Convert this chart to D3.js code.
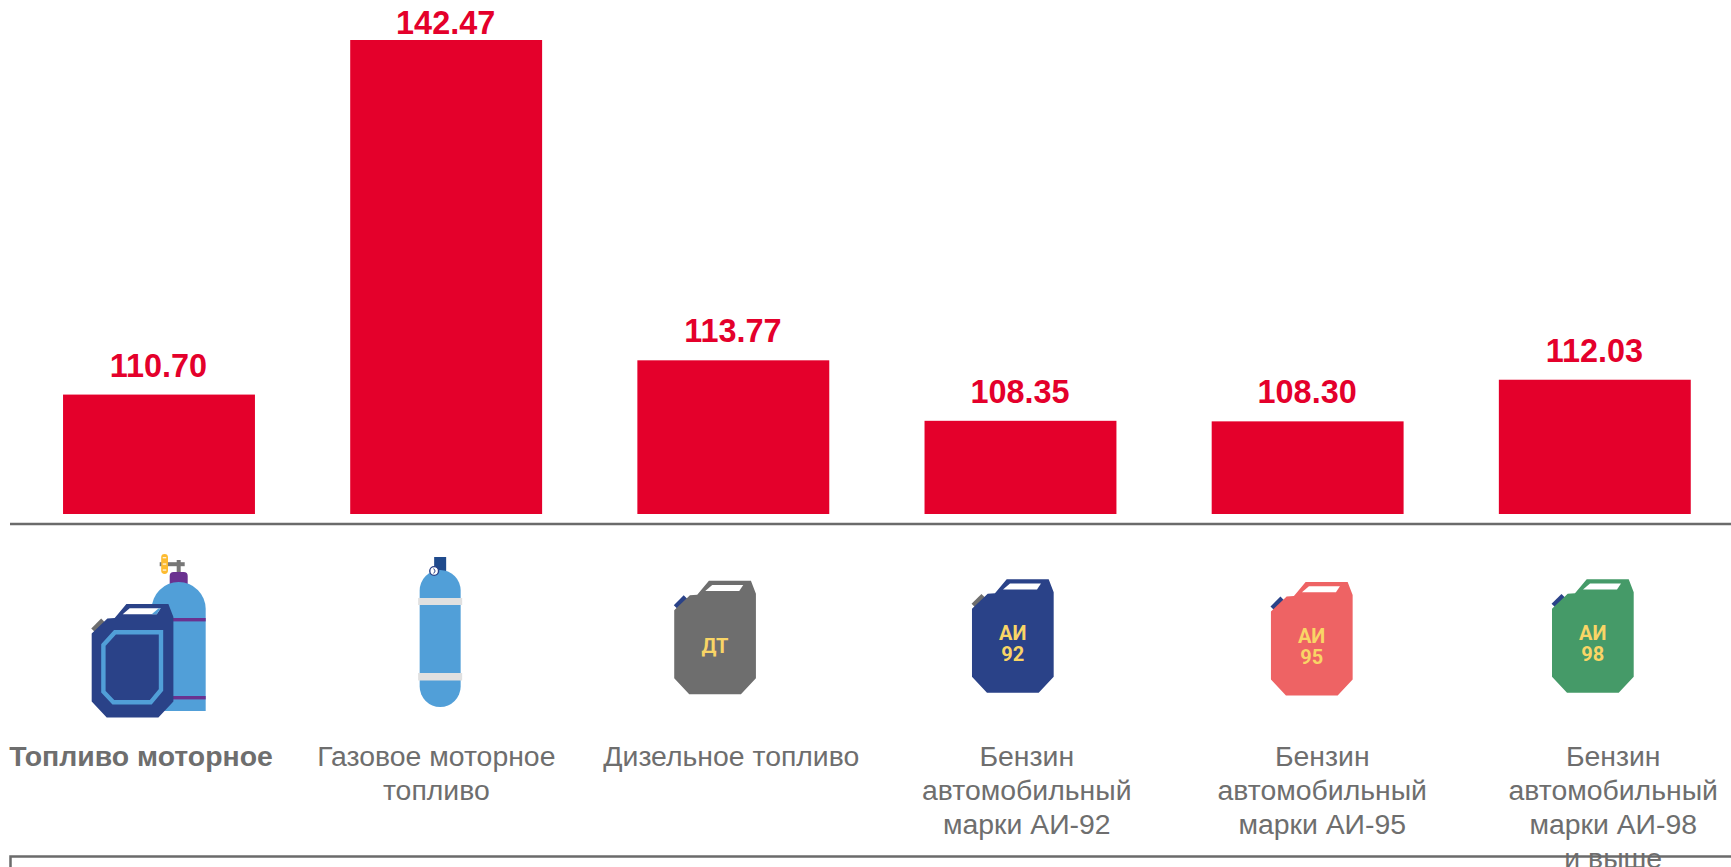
<!DOCTYPE html>
<html lang="ru">
<head>
<meta charset="utf-8">
<script src="https://cdn.jsdelivr.net/npm/d3@7"></script>
<style>
html,body{margin:0;padding:0;background:#fff;overflow:hidden}
svg{display:block}
text{font-family:"Liberation Sans",Arial,sans-serif}
</style>
</head>
<body>
<svg id="chart" width="1731" height="867"></svg>
<script>
const categories = ["Топливо моторное","Газовое моторное топливо","Дизельное топливо","Бензин автомобильный марки АИ-92","Бензин автомобильный марки АИ-95","Бензин автомобильный марки АИ-98 и выше"];
const values = [110.70,142.47,113.77,108.35,108.30,112.03];
const valueLabels = ["110.70","142.47","113.77","108.35","108.30","112.03"];
const categoryLines = [
  ["Топливо моторное"],
  ["Газовое моторное","топливо"],
  ["Дизельное топливо"],
  ["Бензин","автомобильный","марки АИ-92"],
  ["Бензин","автомобильный","марки АИ-95"],
  ["Бензин","автомобильный","марки АИ-98","и выше"]
];
const labelShift = [-18,-9.8,-2,6.3,14.6,18.4];
const valueLift = [18,6.5,18,18,18,18];
const iconKinds = ["combo","gas","can","can","can","can"];
const canColours = [null,null,"#6e6e6e","#2a4288","#ee6364","#459a68"];
const capColours = [null,null,"#2a4288","#6e6e6e","#2a4288","#2a4288"];
const canTexts = [null,null,["ДТ"],["АИ","92"],["АИ","95"],["АИ","98"]];
const canX = [0,0,-59.1,-48.5,-36.7,-42.8];
const canY = [0,0,580.7,579.3,582,579.3];

const RED="#e4002b", GREY="#6b6b6b", BLUE="#519fd8", NAVY="#2a4288", PURPLE="#6a3290", YEL="#f9d566";
const svg=d3.select("#chart");
const x=d3.scaleBand().domain(categories).range([15.4,1738.4]).paddingInner(0.3317).paddingOuter(0.1659);
const y=d3.scaleLinear().domain([100,142.47]).range([514,40]);
const cx=i=>x(categories[i])+x.bandwidth()/2;

svg.append("g").selectAll("rect").data(categories).join("rect")
  .attr("x",d=>x(d)).attr("width",x.bandwidth())
  .attr("y",(d,i)=>y(values[i])).attr("height",(d,i)=>y(100)-y(values[i]))
  .attr("fill",RED);

svg.append("g").selectAll("text").data(categories).join("text")
  .attr("x",d=>x(d)+x.bandwidth()/2-0.5).attr("y",(d,i)=>y(values[i])-valueLift[i])
  .attr("text-anchor","middle").attr("font-size",32.4).attr("font-weight",700).attr("fill",RED)
  .text((d,i)=>valueLabels[i]);

// baseline
svg.append("line").attr("x1",10).attr("x2",1731).attr("y1",524).attr("y2",524).attr("stroke",GREY).attr("stroke-width",2.5);

// category labels
const lab=svg.append("g").selectAll("text").data(categories).join("text")
  .attr("text-anchor","middle").attr("font-size",28.4).attr("fill","#6e6e6e")
  .attr("font-weight",(d,i)=>i===0?700:400);
lab.each(function(d,i){
  d3.select(this).selectAll("tspan").data(categoryLines[i]).join("tspan")
    .attr("x",cx(i)+labelShift[i]).attr("y",(l,k)=>766+k*34).text(l=>l);
});

// lower frame
svg.append("path").attr("d","M10.5 867V856.5H1731").attr("fill","none").attr("stroke",GREY).attr("stroke-width",2.5);

function drawCan(g,body,cap,win,winEnd){
  g.append("rect").attr("x",-7).attr("y",-3.5).attr("width",14).attr("height",7.5).attr("fill",cap)
    .attr("transform","translate(7,22) rotate(-45)");
  g.append("path").attr("d","M0 29.5L15.7 14.5 23 14 34.7 0H76.7L81.7 13V97.5L66.7 113.5H15L0 97.5Z").attr("fill",body);
  g.append("path").attr("d","M31 10.3L38 4.3H69L65 10.3Z").attr("fill",win);
  if(winEnd) g.append("path").attr("d","M60 10.3L67 4.3H69L65 10.3Z").attr("fill",winEnd);
}

iconKinds.forEach((kind,i)=>{
  const g=svg.append("g");
  if(kind==="can"){
    const c=g.append("g").attr("transform",`translate(${cx(i)+canX[i]},${canY[i]})`);
    drawCan(c,canColours[i],capColours[i],"#fff");
    const t=canTexts[i];
    c.selectAll("text").data(t).join("text")
      .attr("x",40.7).attr("y",(l,k)=>t.length===1?72.7:60.7+k*21)
      .attr("text-anchor","middle").attr("font-weight",700).attr("font-size",20).attr("fill",YEL)
      .style("font-family","Roboto")
      .text(l=>l);
  } else if(kind==="gas"){
    const c=g.append("g").attr("transform",`translate(${cx(i)-6},0)`);
    c.append("rect").attr("x",-6).attr("y",557).attr("width",12).attr("height",15).attr("fill","#1f4a8c");
    c.append("rect").attr("x",-20.5).attr("y",570).attr("width",41).attr("height",137).attr("rx",20.5).attr("fill",BLUE);
    c.append("rect").attr("x",-22).attr("y",598).attr("width",44).attr("height",7).attr("fill","#e0e0e0");
    c.append("rect").attr("x",-22).attr("y",673).attr("width",44).attr("height",7.5).attr("fill","#e0e0e0");
    c.append("circle").attr("cx",-6).attr("cy",571).attr("r",4.4).attr("fill","#fff").attr("stroke",NAVY).attr("stroke-width",1.4);
    c.append("path").attr("d","M-6.5 568.5L-5 571-6.5 573.5").attr("fill","none").attr("stroke",NAVY).attr("stroke-width",1);
  } else {
    const c=g.append("g").attr("transform",`translate(${cx(i)},0)`);
    const ox=178.7-159;
    c.append("rect").attr("x",ox-2).attr("y",560).attr("width",4).attr("height",14).attr("fill","#777");
    c.append("rect").attr("x",ox-19).attr("y",562.2).attr("width",25).attr("height",4).attr("fill","#777");
    c.append("rect").attr("x",ox-17.5).attr("y",554).attr("width",6.8).attr("height",20).attr("rx",3.4).attr("fill","#fdbb30");
    [557.7,564,570].forEach(v=>c.append("rect").attr("x",ox-16).attr("y",v-.5).attr("width",3.6).attr("height",1.1).attr("fill","#fff"));
    c.append("path").attr("d",`M${ox-9} 584V576a4 4 0 0 1 4-4h10a4 4 0 0 1 4 4v8Z`).attr("fill",PURPLE);
    c.append("path").attr("d",`M${ox-27} 711V609a27 27 0 0 1 54 0V711Z`).attr("fill",BLUE);
    c.append("rect").attr("x",ox-27).attr("y",618).attr("width",54).attr("height",3.4).attr("fill",PURPLE);
    c.append("rect").attr("x",ox-27).attr("y",696).attr("width",54).attr("height",3.4).attr("fill",PURPLE);
    const k=c.append("g").attr("transform",`translate(${91.7-159},604)`);
    drawCan(k,NAVY,"#6e6e6e","#fff",BLUE);
    k.append("path").attr("d","M11.7 41L23.3 28.3H69.3V86L59 98.3H21.7L11.7 87.7Z").attr("fill","none").attr("stroke",BLUE).attr("stroke-width",4.4);
  }
});
</script>
</body>
</html>
